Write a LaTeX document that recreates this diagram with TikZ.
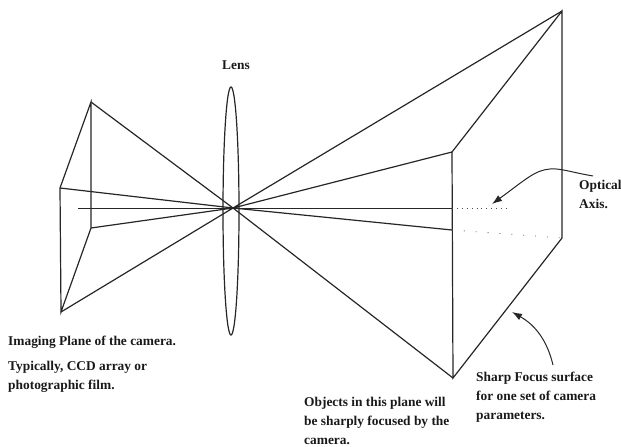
\documentclass[tikz,border=0pt]{standalone}
\usepackage{fontspec}
\setmainfont{Liberation Serif}
\usetikzlibrary{arrows.meta,shapes.geometric}
\tikzset{
  edge/.style={line width=1.2pt,black!85},
  thin edge/.style={line width=1pt,black!85},
  dots/.style={line width=0.8pt,black!70,dash pattern=on 0.9pt off 4pt},
  sparse dots/.style={line width=0.8pt,black!60,dash pattern=on 0.9pt off 11pt},
  note/.style={font=\fontsize{13.4}{19}\selectfont\bfseries,anchor=north west,align=left,inner sep=0pt,text=black!90},
  pointer/.style={line width=1pt,black!85,-{Latex[length=10pt,width=7pt]}}
}
\begin{document}
\begin{tikzpicture}[x=1pt,y=-1pt]
\useasboundingbox (0,0) rectangle (621,447);
\coordinate (A) at (60,188);
\coordinate (B) at (91,102);
\coordinate (C) at (91,228);
\coordinate (D) at (61,312);
\coordinate (O) at (233,208);
\coordinate (E) at (452,152);
\coordinate (F) at (452,230);
\coordinate (G) at (453,378);
\coordinate (H) at (562,11);
\coordinate (I) at (562,238);
\coordinate (AxL) at (78,208);
\coordinate (AxR) at (452,208);
\coordinate (AxD) at (506,208);
\node[draw,edge,shape=ellipse,minimum width=16pt,minimum height=248pt,inner sep=0pt] (lens) at (231,211) {};
\draw[edge] (A)--(B)--(C)--(D)--cycle;
\draw[edge] (B)--(O) (A)--(O) (C)--(O) (D)--(O);
\draw[edge] (O)--(H) (O)--(E) (O)--(F) (O)--(G);
\draw[edge] (E)--(H)--(I)--(G)--cycle;
\draw[thin edge] (AxL)--(AxR);
\draw[dots] (AxR)--(AxD);
\draw[sparse dots] (F)--(I);
\draw[pointer] (593,176) .. controls (570,172) and (560,168) .. (550,169) .. controls (535,170) and (525,180) .. (492,204);
\draw[pointer] (553,365) .. controls (547,340) and (535,325) .. (512,312);
\node[note] (lenslabel) at (222,61) {Lens};
\node[note] (optical) at (579,180) {Optical\\Axis.};
\node[note] (imaging) at (8,336) {Imaging Plane of the camera.};
\node[note] (typical) at (8,361) {Typically, CCD array or\\photographic film.};
\node[note] (objects) at (304,397) {Objects in this plane will\\be sharply focused by the\\camera.};
\node[note] (sharp) at (476,372) {Sharp Focus surface\\for one set of camera\\parameters.};
\end{tikzpicture}
\end{document}
